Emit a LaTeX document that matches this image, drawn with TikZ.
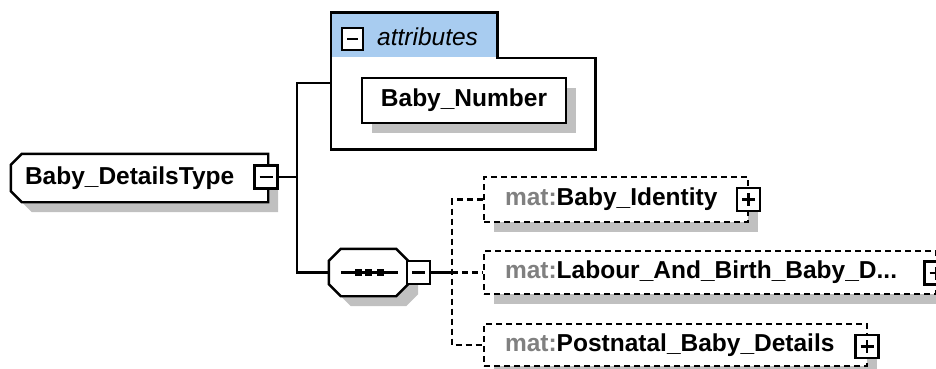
\documentclass[tikz,border=0pt]{standalone}
\usepackage{fontspec}
\setmainfont{Liberation Sans}
\usetikzlibrary{shadows,backgrounds}

\definecolor{tabblue}{RGB}{168,204,240}
\definecolor{shadowgray}{RGB}{192,192,192}
\definecolor{prefixgray}{RGB}{128,128,128}

\tikzset{
  every path/.style={line width=2.4pt},
  base/.style={font=\fontsize{24.5}{28}\selectfont\bfseries},
  shadowed/.style={drop shadow={shadow xshift=10pt, shadow yshift=-10pt, fill=shadowgray, opacity=1}},
  shadowfill/.style={fill=shadowgray, transform canvas={xshift=10pt, yshift=-10pt}},
  boxline/.style={draw=black, fill=white},
  dashline/.style={dash pattern=on 6pt off 4pt},
  typebox/.style={minimum width=255pt, minimum height=46pt, inner xsep=13pt, inner ysep=0pt, text width=229pt, align=left},
  seqbox/.style={minimum width=77pt, minimum height=45pt, inner sep=0pt},
  attbox/.style={draw, fill=white, shadowed, minimum width=204pt, minimum height=45pt, inner sep=0pt},
  elem/.style={draw, dashline, fill=white, shadowed, inner xsep=21pt, inner ysep=0pt,
    minimum height=45pt, align=left},
  toggle/.style={draw, solid, fill=white, minimum width=23pt, minimum height=23pt, inner sep=0pt},
  minus/.style={toggle, path picture={
    \draw ([xshift=5pt]path picture bounding box.west) -- ([xshift=-5pt]path picture bounding box.east);}},
  plus/.style={toggle, path picture={
    \draw ([xshift=5pt]path picture bounding box.west) -- ([xshift=-5pt]path picture bounding box.east);
    \draw ([yshift=-5pt]path picture bounding box.north) -- ([yshift=5pt]path picture bounding box.south);}},
}

\begin{document}
\begin{tikzpicture}[x=1pt,y=-1pt,base]
  \useasboundingbox (0,0) rectangle (936,369);

  % complex type
  \node[typebox] (type) at (139.5,178) {Baby\_DetailsType};
  \begin{pgfonlayer}{background}
    \fill[shadowfill] ([xshift=11pt]type.north west) -- (type.north east) -- (type.south east)
      -- ([xshift=11pt]type.south west) -- ([yshift=11pt]type.south west) -- ([yshift=-11pt]type.north west) -- cycle;
    \path[boxline] ([xshift=11pt]type.north west) -- (type.north east) -- (type.south east)
      -- ([xshift=11pt]type.south west) -- ([yshift=11pt]type.south west) -- ([yshift=-11pt]type.north west) -- cycle;
  \end{pgfonlayer}
  \node[minus] (typetgl) at (266,177) {};

  % attributes group
  \node[fill=tabblue, minimum width=164pt, minimum height=43pt, anchor=south west, inner sep=0pt] (attrtab) at (331,58) {};
  \node[minimum width=262pt, minimum height=89pt, anchor=north west, inner sep=0pt] (attrbody) at (331,58) {};
  \draw (attrbody.south west) -- (attrtab.north west) -- (attrtab.north east) -- (attrtab.south east)
    -- (attrbody.north east) -- (attrbody.south east) -- cycle;
  \node[minus, minimum width=21pt, minimum height=22pt] (attrtgl) at (352.5,39) {};
  \node[anchor=west, inner sep=0pt, font=\fontsize{24.5}{28}\selectfont\itshape] (attrlbl) at (376,37) {attributes};
  \node[attbox] (num) at (464,100.5) {Baby\_Number};
  \coordinate (attrin) at (331,83);

  % sequence
  \node[seqbox] (seq) at (368.5,272.5) {};
  \fill[shadowfill] ([xshift=12pt]seq.north west) -- ([xshift=-12pt]seq.north east) -- ([yshift=-12pt]seq.north east)
    -- ([yshift=12pt]seq.south east) -- ([xshift=-12pt]seq.south east) -- ([xshift=12pt]seq.south west)
    -- ([yshift=12pt]seq.south west) -- ([yshift=-12pt]seq.north west) -- cycle;
  \path[boxline] ([xshift=12pt]seq.north west) -- ([xshift=-12pt]seq.north east) -- ([yshift=-12pt]seq.north east)
    -- ([yshift=12pt]seq.south east) -- ([xshift=-12pt]seq.south east) -- ([xshift=12pt]seq.south west)
    -- ([yshift=12pt]seq.south west) -- ([yshift=-12pt]seq.north west) -- cycle;
  \draw ([xshift=12pt]seq.west) -- ([xshift=-10pt]seq.east);
  \foreach \dx in {-10.5,-0.5,11.5}
    \fill ([xshift=\dx pt]seq.center) ++(-3.5,-3.5) rectangle ++(7,7);
  \node[minus] (seqtgl) at (418.5,272.5) {};

  \coordinate (fork) at (297,177);
  \draw (typetgl) -- (fork);
  \draw (attrin) -| (fork) |- (seq.west);

  % child elements
  \node[elem, text width=222pt] (ident) at (616,199.5) {\textcolor{prefixgray}{mat:}Baby\_Identity};
  \node[plus] (identtgl) at (748.5,199.5) {};
  \node[elem, text width=410pt, minimum height=43pt] (labour) at (710,272.5) {\textcolor{prefixgray}{mat:}Labour\_And\_Birth\_Baby\_D...};
  \node[plus] (labourtgl) at (936,273) {};
  \node[elem, text width=341pt, minimum height=42pt] (postnatal) at (675.5,345) {\textcolor{prefixgray}{mat:}Postnatal\_Baby\_Details};
  \node[plus] (postnataltgl) at (867,346.5) {};

  \coordinate (branch) at (452,272.5);
  \draw (seqtgl) -- ([xshift=6pt]branch);
  \draw[dashline] (ident.west) -| (branch) |- (postnatal.west);
  \draw[dashline] (branch) -- (labour.west);
\end{tikzpicture}
\end{document}
